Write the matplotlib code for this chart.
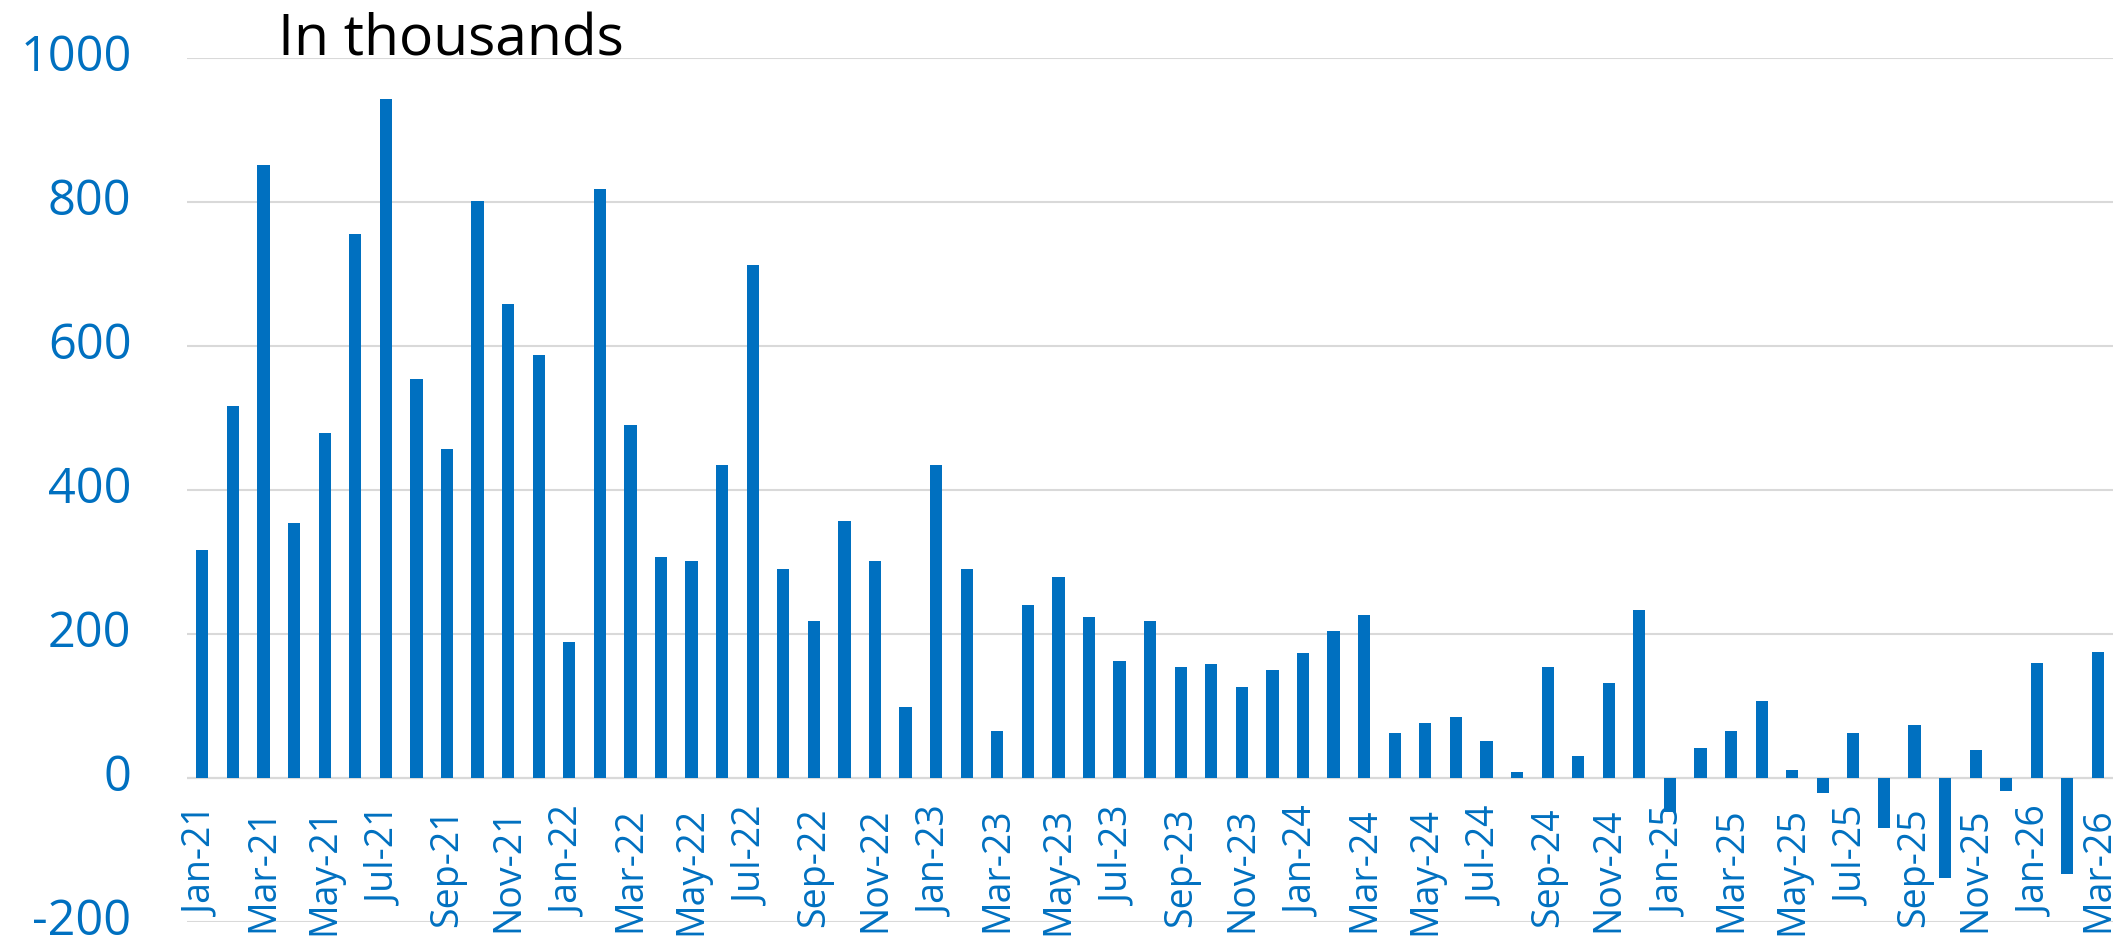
import numpy as np
import matplotlib
matplotlib.use("Agg")
import matplotlib.pyplot as plt

months = ["Jan", "Feb", "Mar", "Apr", "May", "Jun",
          "Jul", "Aug", "Sep", "Oct", "Nov", "Dec"]
labels = [f"{m}-{y}" for y in range(21, 27) for m in months][:63]

vals_2021 = [317, 517, 852, 354, 479, 756, 943, 554, 457, 802, 658, 587]
vals_2022 = [189, 818, 490, 307, 302, 435, 713, 290, 218, 357, 302, 99]
vals_2023 = [435, 290, 66, 241, 279, 224, 163, 218, 154, 158, 127, 151]
vals_2024 = [174, 205, 227, 63, 77, 85, 52, 9, 154, 31, 132, 234]
vals_2025 = [-47, 42, 66, 108, 11, -21, 63, -69, 74, -138, 39, -18]
vals_2026 = [160, -133, 176]
values = vals_2021 + vals_2022 + vals_2023 + vals_2024 + vals_2025 + vals_2026

yticks = [-200, 0, 200, 400, 600, 800, 1000]

blue = "#0070C0"
plt.rcParams["font.family"] = ["Open Sans", "DejaVu Sans"]
plt.rcParams["axes.unicode_minus"] = False

fig = plt.figure(figsize=(21.26, 9.47), dpi=100)
ax = fig.add_axes([0.088, 0.026, 0.906, 0.9128])

x = np.arange(len(values))
ax.bar(x, values, width=0.4, color=blue, zorder=3)

ax.set_xlim(-0.5, len(values) - 0.5)
ax.set_ylim(-200, 1000)
ax.set_yticks(yticks)
ax.tick_params(axis="y", length=0, pad=40, labelsize=35, labelcolor=blue)
for t in ax.get_yticklabels():
    t.set_verticalalignment("center")
ax.set_xticks([])
ax.grid(axis="y", color="#D9D9D9", linewidth=1.5, zorder=0)
for s in ax.spines.values():
    s.set_visible(False)
ax.axhline(0, color="#D0D0D0", linewidth=1.5, zorder=1)

# month labels just under the zero line, every other month
for i in range(0, len(labels), 2):
    ax.annotate(labels[i], (i, 0), xytext=(0, -21), textcoords="offset points",
                rotation=90, ha="center", va="top", fontsize=27,
                color=blue, zorder=2, annotation_clip=False)

fig.text(278 / 2126, 1 - 56 / 947, "In thousands", fontsize=41,
         color="black", ha="left", va="baseline")

fig.savefig("out.png", dpi=100)
